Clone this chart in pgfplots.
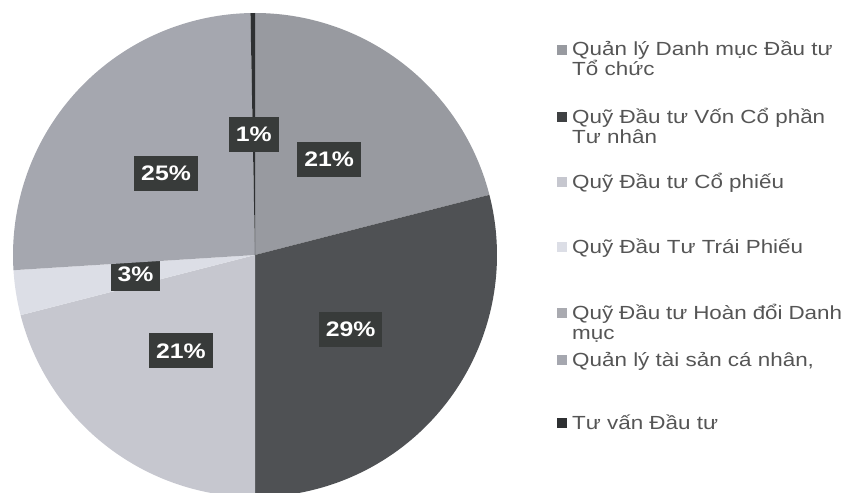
\documentclass[border=0pt]{standalone}
\usepackage{fontspec}
\setmainfont{Liberation Sans}
\newfontfamily\legfont[FakeStretch=1.18]{Liberation Sans}
\newfontfamily\lblfont[FakeStretch=1.18]{Liberation Sans}
\usepackage{pgfplots}
\pgfplotsset{compat=1.18}

% slice colours (scanned greys)
\definecolor{qldm}{HTML}{989AA0}
\definecolor{vcp}{HTML}{4F5154}
\definecolor{cphieu}{HTML}{C6C7CF}
\definecolor{tphieu}{HTML}{DCDEE6}
\definecolor{hoandoi}{HTML}{A9AAB0}
\definecolor{qlts}{HTML}{A5A7AF}
\definecolor{tuvan}{HTML}{2E3032}
\definecolor{lblbg}{HTML}{383B3A}
\definecolor{legtxt}{HTML}{555555}

% running total of the percentages already drawn
\newcommand\cum{0}
% \slice{value in %}{colour}{label}
\newcommand\slice[3]{%
  \edef\next{\noexpand\addplot[fill=#2,draw=none,forget plot,samples=100,
      domain=\fpeval{90-3.6*(\cum+#1)}:\fpeval{90-3.6*\cum}]
      ({cos(x)},{sin(x)}) -- (0,0) -- cycle;
    \noexpand\node[lbl] at (axis cs:\fpeval{0.5*cosd(90-3.6*(\cum+#1/2))},\fpeval{0.5*sind(90-3.6*(\cum+#1/2))}) {\unexpanded{#3}};}%
  \next
  \xdef\cum{\fpeval{\cum+#1}}}

\begin{document}
\begin{tikzpicture}[
    lbl/.style={fill=lblbg,text=white,font=\lblfont\bfseries\fontsize{21bp}{21bp}\selectfont,
                inner xsep=7bp,inner ysep=10bp,text height=15bp,text depth=0pt},
    leg/.style={anchor=base west,inner sep=0pt,text=legtxt}]
  \useasboundingbox (0,0) rectangle (844bp,493bp);
  \begin{axis}[
    at={(255bp,238bp)},anchor=origin,
    scale only axis,width=484bp,height=484bp,
    xmin=-1,xmax=1,ymin=-1,ymax=1,
    hide axis,clip=false,
  ]
    \slice{21}{qldm}{21\%}
    \slice{29}{vcp}{29\%}
    \slice{21}{cphieu}{21\%}
    \slice{3}{tphieu}{3\%}
    \slice{25.7}{qlts}{25\%}
    \slice{0.3}{tuvan}{1\%}
  \end{axis}
  % legend: baseline (px from top), marker colour, text
  \foreach \yb/\col/\txt in {
      56/qldm/{Quản lý Danh mục Đầu tư\\Tổ chức},
      123/vcp!80!black/{Quỹ Đầu tư Vốn Cổ phần\\Tư nhân},
      188/cphieu/{Quỹ Đầu tư Cổ phiếu},
      253/tphieu/{Quỹ Đầu Tư Trái Phiếu},
      319/hoandoi/{Quỹ Đầu tư Hoàn đổi Danh\\mục},
      366/qlts/{Quản lý tài sản cá nhân,},
      429/tuvan/{Tư vấn Đầu tư}} {
    \fill[\col] (557bp,{(493-\yb+1)*1bp}) rectangle (567bp,{(493-\yb+11)*1bp});
    \node[leg] at (572bp,{(493-\yb)*1bp})
      {\parbox[t]{270bp}{\legfont\fontsize{19bp}{20bp}\selectfont\raggedright\txt}};
  }
\end{tikzpicture}
\end{document}
